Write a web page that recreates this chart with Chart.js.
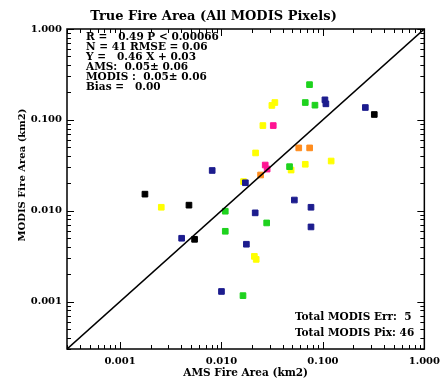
<!DOCTYPE html>
<html lang="en">
<head>
<meta charset="UTF-8">
<title>True Fire Area (All MODIS Pixels)</title>
<script src="https://cdn.jsdelivr.net/npm/chart.js"></script>
<style>
  html, body { margin: 0; padding: 0; background: #fff; }
</style>
</head>
<body>
<canvas id="fireChart" width="446" height="380"></canvas>
<script>
// AMS fire area (x) vs MODIS fire area (y), km2, one entry per pixel
const amsArea = [
  0.00176, 0.00255, 0.00478, 0.00405, 0.00543, 0.0081, 0.0109, 0.0109, 0.0100, 0.0163,
  0.0176, 0.0211, 0.0220, 0.0215, 0.0165, 0.0172, 0.0243, 0.0270, 0.0282, 0.0279,
  0.0217, 0.0256, 0.0324, 0.0336, 0.0314, 0.0469, 0.0486, 0.0523, 0.0578, 0.0670,
  0.0670, 0.0738, 0.0740, 0.0763, 0.0763, 0.0835, 0.1047, 0.1070, 0.1206, 0.262,
  0.321
];
const modisArea = [
  0.0152, 0.0109, 0.0115, 0.00497, 0.00484, 0.0277, 0.00986, 0.00593, 0.00129, 0.00116,
  0.00427, 0.00314, 0.00291, 0.00946, 0.0209, 0.0203, 0.0247, 0.0318, 0.0287, 0.00733,
  0.0432, 0.0865, 0.0865, 0.155, 0.144, 0.0305, 0.0280, 0.0131, 0.0491, 0.0324,
  0.155, 0.244, 0.0491, 0.0109, 0.00662, 0.145, 0.166, 0.150, 0.0352, 0.1367,
  0.1145
];
const pointGroup = [
  'black', 'yellow', 'black', 'navy', 'black', 'navy', 'green', 'green', 'navy', 'green',
  'navy', 'yellow', 'yellow', 'navy', 'yellow', 'navy', 'orange', 'pink', 'pink', 'green',
  'yellow', 'yellow', 'pink', 'yellow', 'yellow', 'green', 'yellow', 'navy', 'orange', 'yellow',
  'green', 'green', 'orange', 'navy', 'navy', 'green', 'navy', 'navy', 'yellow', 'navy',
  'black'
];
const groupColors = {
  black: '#000000', navy: '#1c1c8e', green: '#1ed21e',
  yellow: '#ffff00', orange: '#ff8c1e', pink: '#ff1493'
};
const tickValues = [0.001, 0.01, 0.1, 1];
const statsLines = [
  'R =   0.49 P < 0.00066',
  'N = 41 RMSE = 0.06',
  'Y =   0.46 X + 0.03',
  'AMS:  0.05\u00b1 0.06',
  'MODIS :  0.05\u00b1 0.06',
  'Bias =   0.00'
];
const totalsLines = ['Total MODIS Err:  5', 'Total MODIS Pix: 46'];

const FONT = '"DejaVu Serif", "Liberation Serif", serif';

// one scatter dataset per colour group
const datasets = Object.keys(groupColors).map(g => {
  const pts = [];
  amsArea.forEach((x, i) => { if (pointGroup[i] === g) pts.push({x: x, y: modisArea[i]}); });
  return {
    label: g,
    data: pts,
    pointStyle: 'rect',
    pointRadius: 4,
    pointBorderWidth: 1,
    pointBorderColor: groupColors[g],
    pointBackgroundColor: groupColors[g]
  };
});

// 1:1 line
datasets.unshift({
  label: 'one-to-one',
  data: [{x: 0.0003, y: 0.0003}, {x: 1, y: 1}],
  showLine: true,
  borderColor: '#000',
  borderWidth: 1.6,
  pointRadius: 0
});

const decorations = {
  id: 'decorations',
  afterDraw(chart) {
    const ctx = chart.ctx;
    const a = chart.chartArea;
    const xs = chart.scales.x, ys = chart.scales.y;
    ctx.save();
    ctx.strokeStyle = '#000';
    ctx.lineWidth = 1.5;
    ctx.strokeRect(a.left, a.top, a.right - a.left, a.bottom - a.top);

    // inward log ticks on all four sides
    ctx.lineWidth = 1;
    ctx.beginPath();
    for (let d = -4; d <= 0; d++) {
      for (let m = 1; m <= 9; m++) {
        const v = m * Math.pow(10, d);
        if (v < 0.0003 || v > 1.0001) continue;
        const len = m === 1 ? 7 : 4;
        const px = Math.round(xs.getPixelForValue(v)) + 0.5;
        ctx.moveTo(px, a.bottom); ctx.lineTo(px, a.bottom - len);
        ctx.moveTo(px, a.top); ctx.lineTo(px, a.top + len);
        const py = Math.round(ys.getPixelForValue(v)) + 0.5;
        ctx.moveTo(a.left, py); ctx.lineTo(a.left + len, py);
        ctx.moveTo(a.right, py); ctx.lineTo(a.right - len, py);
      }
    }
    ctx.stroke();

    ctx.fillStyle = '#000';
    ctx.font = 'bold 10.5px ' + FONT;
    ctx.textBaseline = 'middle';
    ctx.textAlign = 'left';
    statsLines.forEach((t, i) => ctx.fillText(t, 86, 37 + i * 10));
    totalsLines.forEach((t, i) => ctx.fillText(t, 295, 317 + i * 16));

    // y axis title
    ctx.font = 'bold 10px ' + FONT;
    ctx.translate(22, 175);
    ctx.rotate(-Math.PI / 2);
    ctx.textAlign = 'center';
    ctx.fillText('MODIS Fire Area (km2)', 0, 0);
    ctx.restore();
  }
};

const fixTicks = s => { s.ticks = tickValues.map(v => ({value: v})); };

new Chart(document.getElementById('fireChart'), {
  type: 'scatter',
  data: { datasets: datasets },
  options: {
    responsive: false,
    animation: false,
    devicePixelRatio: 1,
    layout: { padding: { left: 0, right: 19, top: 0, bottom: 0 } },
    plugins: {
      legend: { display: false },
      tooltip: { enabled: false },
      title: {
        display: true,
        text: 'True Fire Area (All MODIS Pixels)',
        color: '#000',
        font: { family: FONT, size: 13, weight: 'bold', lineHeight: 1.2 },
        padding: { top: 9, bottom: 4.4 }
      }
    },
    scales: {
      x: {
        type: 'logarithmic',
        min: 0.0003,
        max: 1,
        afterBuildTicks: fixTicks,
        afterFit: s => { s.height = 31; },
        grid: { display: false, drawTicks: false },
        border: { display: false },
        ticks: {
          callback: v => Number(v).toFixed(3),
          color: '#000',
          font: { family: FONT, size: 10, weight: 'bold' },
          padding: 6,
          maxRotation: 0,
          autoSkip: false
        },
        title: {
          display: true,
          text: 'AMS Fire Area (km2)',
          color: '#000',
          font: { family: FONT, size: 10.5, weight: 'bold' },
          padding: 0
        }
      },
      y: {
        type: 'logarithmic',
        min: 0.0003,
        max: 1,
        afterBuildTicks: fixTicks,
        afterFit: s => { s.width = 67; },
        grid: { display: false, drawTicks: false },
        border: { display: false },
        ticks: {
          callback: v => Number(v).toFixed(3),
          color: '#000',
          font: { family: FONT, size: 10, weight: 'bold' },
          padding: 5,
          autoSkip: false
        }
      }
    }
  },
  plugins: [decorations]
});
</script>
</body>
</html>
